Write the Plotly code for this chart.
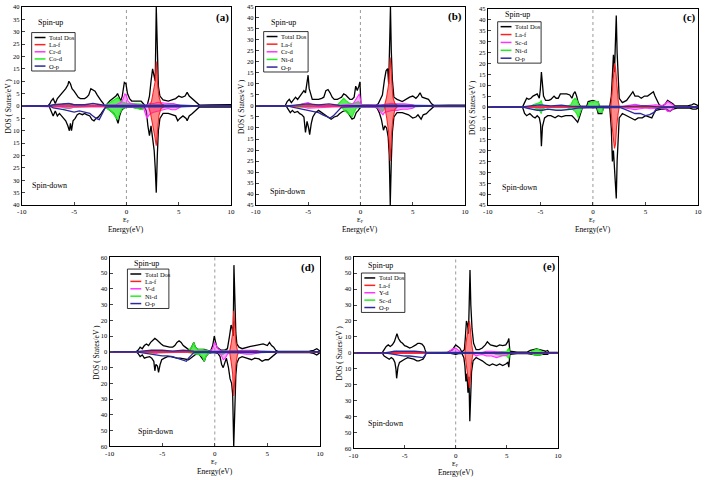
import plotly.graph_objects as go

W, H = 708, 480

# ---------------- data ----------------
energy_range = [-10, 10]
x_ticks = [-10, -5, 0, 5, 10]
x_tick_labels = ["-10", "-5", "0", "5", "10"]
EF = 0

panel_labels = ["(a)", "(b)", "(c)", "(d)", "(e)"]
names_a = ["Total Dos", "La-f", "Cr-d", "Co-d", "O-p"]
names_b = ["Total Dos", "La-f", "Cr-d", "Ni-d", "O-p"]
names_c = ["Total Dos", "La-f", "Sc-d", "Ni-d", "O-p"]
names_d = ["Total Dos", "La-f", "V-d", "Ni-d", "O-p"]
names_e = ["Total Dos", "La-f", "Y-d", "Sc-d", "O-p"]
y_limits = [40, 45, 45, 60, 60]
y_steps = [5, 5, 5, 10, 10]

# (energy, DOS) pairs; spin-down values are given as magnitudes
a_total_up = [(-10,0),(-7.5,0),(-7.3,1),(-7.2,2),(-7.0,3),(-6.8,1),(-6.6,3),(-6.4,4),(-6.2,5),(-6.0,6),(-5.8,7),(-5.6,8.5),(-5.5,10),(-5.35,9),(-5.2,7),(-5.0,6),(-4.8,4.5),(-4.6,3.5),(-4.4,3),(-4.0,3),(-3.8,3.5),(-3.6,4.5),(-3.4,7),(-3.2,6.5),(-3.0,6),(-2.8,4.5),(-2.6,3),(-2.4,2),(-2.2,1),(-2.1,0),(-1.9,0.5),(-1.6,2),(-1.3,3),(-1.0,4),(-0.85,5),(-0.7,3.5),(-0.55,2),(-0.4,4),(-0.2,9.5),(-0.05,9),(0.1,5),(0.3,3),(0.5,2),(1.0,2),(1.4,2),(1.6,1),(1.8,0),(2.0,0.5),(2.2,4),(2.35,10),(2.5,15),(2.65,12),(2.75,10),(2.85,40),(2.95,18),(3.05,8),(3.2,4),(3.5,2.5),(4.0,2),(4.4,2.5),(4.7,3),(5.0,4),(5.3,3.5),(5.6,4),(5.8,5.5),(6.0,4),(6.3,3),(6.6,2),(6.8,1),(7.0,0.3),(8,0.4),(9,0.5),(10,0.5)]
a_total_dn = [(-10,0),(-7.4,0),(-7.2,2),(-7.0,4),(-6.8,2),(-6.6,4),(-6.4,3),(-6.2,4),(-6.0,5),(-5.8,6),(-5.6,8),(-5.45,10),(-5.35,7),(-5.25,10),(-5.1,6),(-4.9,5),(-4.7,3.5),(-4.5,3),(-4.2,3.5),(-4.0,3),(-3.8,3.5),(-3.5,4),(-3.3,5.5),(-3.1,6),(-2.9,5),(-2.7,4.5),(-2.4,3),(-2.2,1.5),(-2.0,0.5),(-1.8,1),(-1.5,2),(-1.2,3),(-1.0,4.5),(-0.8,7),(-0.65,4),(-0.5,2),(-0.3,1),(0,0.5),(0.5,0.5),(1.0,0.8),(1.5,1.2),(1.7,0.3),(1.9,2),(2.05,8),(2.2,12),(2.35,8),(2.5,14),(2.65,18),(2.75,25),(2.85,35),(2.95,20),(3.05,10),(3.2,5),(3.5,3),(4.0,3),(4.4,3.5),(4.7,4),(4.9,6),(5.1,5),(5.4,4),(5.7,5),(5.8,6),(6.0,4),(6.3,3),(6.6,2),(6.8,1),(7.0,0.3),(8,0.4),(10,0.4)]
a_laf_up = [(-10,0),(2.2,0),(2.4,2),(2.6,6),(2.75,10),(2.85,18),(2.95,10),(3.1,4),(3.3,1),(3.6,0.3),(10,0)]
a_laf_dn = [(-10,0),(2.1,0),(2.3,3),(2.5,7),(2.7,12),(2.85,16),(2.95,10),(3.1,4),(3.3,1),(3.6,0.3),(10,0)]
a_d1_up = [(-10,0),(-6.5,0),(-6,0.5),(-5.5,1),(-5,0.5),(-4,0.3),(-2,0.3),(-1,0.5),(-0.5,1.5),(-0.3,3),(-0.15,5),(0,4),(0.15,2),(0.4,1),(1,0.5),(1.8,0.3),(2.2,1),(2.6,1),(3.0,1.5),(3.5,1.2),(4,1),(4.5,1),(5,0.5),(5.3,0),(10,0)]
a_d1_dn = [(-10,0),(-6,0.5),(-5.5,1),(-5,0.5),(-2,0.3),(0,0.5),(1.6,0.5),(1.8,3),(1.95,5),(2.1,4),(2.3,3),(2.6,2.5),(3.0,2),(3.5,1.5),(4,1),(4.3,1.5),(4.7,1.5),(5,0.8),(5.3,0),(10,0)]
a_d2_up = [(-10,0),(-6.3,0),(-6,1),(-5.5,1),(-5,0.5),(-2.2,0),(-1.9,0.5),(-1.5,1.5),(-1.1,2.5),(-0.8,3.5),(-0.6,2),(-0.3,1.5),(0,1),(0.5,1),(1,1),(1.4,0.8),(1.7,0),(10,0)]
a_d2_dn = [(-10,0),(-6.3,0),(-6,0.8),(-5.5,1),(-5,0.5),(-2.2,0),(-1.9,0.8),(-1.5,2),(-1.2,3.5),(-0.85,5.5),(-0.65,3),(-0.4,1),(0,0.5),(0.5,0.5),(1,1),(1.5,1.5),(1.7,0),(10,0)]
a_op_up = [(-10,0),(-7.5,0),(-7,0.5),(-6,0.8),(-5.5,1),(-5,0.5),(-4,0.5),(-3.2,1),(-2.5,0.5),(-2,0.2),(0,0.2),(2,0.3),(3,0.5),(5,0.3),(7,0),(10,0)]
a_op_dn = [(-10,0),(-7.3,0),(-7,0.8),(-6.5,1),(-6,1.5),(-5.5,2),(-5,2.5),(-4.5,2),(-4,2.5),(-3.5,3),(-3.2,4),(-2.9,5),(-2.6,5.5),(-2.4,4),(-2.2,2),(-2.0,0.5),(-1.5,0.3),(0,0.2),(2,0.3),(5,0.3),(7,0),(10,0)]

b_total_up = [(-10,0),(-7.2,0),(-7.0,2),(-6.8,3),(-6.6,1.5),(-6.4,3),(-6.2,4),(-6.0,3),(-5.8,4.5),(-5.6,5.5),(-5.4,7),(-5.25,6),(-5.1,10),(-5.0,14),(-4.9,8),(-4.75,5),(-4.6,3),(-4.3,3),(-4.0,3),(-3.7,3.5),(-3.5,4),(-3.3,7),(-3.1,7.5),(-2.9,6),(-2.7,4),(-2.5,3),(-2.2,3),(-2.0,3.5),(-1.8,4),(-1.6,5.5),(-1.4,5),(-1.2,4),(-1.0,3),(-0.8,3),(-0.6,4),(-0.45,9),(-0.3,7),(-0.15,9),(-0.05,11),(0.05,0.5),(1.5,0.3),(1.7,1),(1.9,3),(2.1,5),(2.3,12),(2.45,16),(2.6,17),(2.7,10),(2.8,30),(2.87,45),(2.95,25),(3.05,12),(3.2,4),(3.5,3),(4.0,2),(4.3,3),(4.7,4),(5.0,4.5),(5.3,3.5),(5.5,4.5),(5.7,6),(5.9,4),(6.2,3.5),(6.5,3),(6.8,1),(7.0,0.3),(8.5,0.4),(10,0.4)]
b_total_dn = [(-10,0),(-7.1,0),(-6.9,1.5),(-6.7,3),(-6.5,2),(-6.3,3),(-6.0,2.5),(-5.8,3.5),(-5.6,4),(-5.4,5),(-5.25,12),(-5.1,7),(-4.95,10),(-4.85,13),(-4.7,8),(-4.55,5),(-4.3,3),(-4.0,2),(-3.7,3),(-3.4,4),(-3.1,5),(-2.8,6),(-2.5,5),(-2.2,4.5),(-2.0,3.5),(-1.7,2.5),(-1.4,2),(-1.2,3),(-1.0,4.5),(-0.8,6),(-0.6,5.5),(-0.4,3),(-0.2,2),(0.0,0.5),(1.3,0.3),(1.6,1),(1.8,3),(2.0,6),(2.2,11),(2.35,9),(2.5,10),(2.65,14),(2.75,22),(2.85,45),(2.95,25),(3.05,12),(3.2,5),(3.5,3),(4.0,3),(4.3,3.5),(4.6,4),(5.0,5.5),(5.3,5),(5.5,4),(5.8,6),(6.0,4),(6.3,3.5),(6.6,2),(6.8,1),(7.0,0.3),(10,0.3)]
b_laf_up = [(-10,0),(2.3,0),(2.5,4),(2.7,10),(2.85,22),(2.95,12),(3.1,4),(3.3,1),(3.6,0),(10,0)]
b_laf_dn = [(-10,0),(2.3,0),(2.5,5),(2.7,12),(2.85,25),(2.95,14),(3.1,6),(3.3,1.5),(3.6,0),(10,0)]
b_d1_up = [(-10,0),(-6,0),(-5.5,1),(-5,1.5),(-4.5,0.5),(-2,0.3),(-0.7,1),(-0.45,3),(-0.25,4),(-0.1,5.5),(0.0,3),(0.1,0.3),(2,0.5),(2.5,1),(3,1.2),(3.5,1),(4.2,1),(5,0.5),(5.3,0),(10,0)]
b_d1_dn = [(-10,0),(-6,0),(-5.5,0.5),(-5,1),(-2,0.3),(0,0.3),(1.6,0.5),(1.8,2),(2.0,3.5),(2.15,4),(2.3,3),(2.6,2.5),(3.0,2),(3.5,2),(4,1.5),(4.5,1.5),(5,1),(5.3,0),(10,0)]
b_d2_up = [(-10,0),(-6.3,0),(-6,0.5),(-5.5,1),(-5,0.8),(-2.6,0),(-2.2,0.5),(-1.9,2),(-1.6,3.5),(-1.4,2.5),(-1.1,1.5),(-0.8,1),(-0.5,1.5),(-0.2,2),(0,1),(0.05,0),(10,0)]
b_d2_dn = [(-10,0),(-6.3,0),(-6,0.5),(-5,0.5),(-2.2,0),(-1.9,0.5),(-1.6,1.5),(-1.3,3),(-1.0,4),(-0.8,5),(-0.6,3),(-0.4,1),(0,0.5),(1.5,0.3),(1.7,1),(1.9,2),(2.1,2.5),(2.3,1),(2.5,0),(10,0)]
b_op_up = [(-10,0),(-7,0),(-6,0.5),(-5,1),(-4,0.5),(-3,1),(-2,0.3),(0,0.2),(3,0.4),(5,0.3),(7,0),(10,0)]
b_op_dn = [(-10,0),(-7,0),(-6.5,0.5),(-6,1),(-5.5,1.5),(-5,2),(-4.5,2.5),(-4,3),(-3.6,4),(-3.2,5),(-2.9,5.5),(-2.6,4.5),(-2.3,3),(-2.0,1.5),(-1.8,0.5),(0,0.2),(3,0.3),(5,0.3),(7,0),(10,0)]

c_total_up = [(-10,0),(-6.7,0),(-6.5,2),(-6.3,4),(-6.1,3.5),(-5.9,4),(-5.7,5),(-5.5,5.5),(-5.3,6),(-5.1,4),(-5.0,8),(-4.9,16),(-4.8,9),(-4.7,5),(-4.5,3),(-4.2,3),(-4.0,3.5),(-3.7,5),(-3.5,4),(-3.3,4),(-3.1,6),(-2.8,6),(-2.5,6),(-2.2,5.5),(-2.0,4),(-1.85,6),(-1.7,7),(-1.55,5),(-1.4,2),(-1.2,0.3),(-0.6,0.3),(-0.45,2.5),(0.0,3),(0.3,2.5),(0.5,2.5),(0.6,0.3),(1.6,0.3),(1.75,5),(1.85,15),(1.95,24),(2.05,16),(2.15,30),(2.22,42),(2.3,25),(2.4,10),(2.5,4),(2.8,2),(3.2,3),(3.5,5),(3.8,7),(4.0,5),(4.3,5),(4.6,4),(4.9,5),(5.2,5),(5.5,6),(5.75,7),(5.9,5),(6.1,3),(6.3,1),(6.6,0.3),(6.9,1.5),(7.1,3),(7.3,2.5),(7.6,1.5),(7.8,0.5),(9.0,0.5),(9.4,1),(9.6,1.5),(9.85,1),(10,0.5)]
c_total_dn = [(-10,0),(-6.7,0),(-6.5,3),(-6.3,4),(-6.0,3),(-5.7,4.5),(-5.5,5),(-5.3,4),(-5.1,5),(-4.98,8),(-4.9,18),(-4.8,9),(-4.6,5),(-4.3,4),(-4.0,4),(-3.6,5),(-3.3,4),(-3.0,4.5),(-2.6,4),(-2.3,4),(-2.0,4),(-1.8,5),(-1.6,6),(-1.45,7),(-1.3,5),(-1.15,2),(-1.0,0.3),(0.35,0.3),(0.5,3),(0.7,3),(0.85,3),(1.0,0.3),(1.6,0.3),(1.75,10),(1.85,25),(1.95,20),(2.05,28),(2.15,35),(2.22,42),(2.3,25),(2.4,10),(2.5,5),(2.8,3),(3.2,4),(3.6,5),(4.0,6),(4.3,5),(4.7,5),(5.0,4),(5.3,4.5),(5.6,5),(5.8,3),(6.0,1.5),(6.5,1),(7.0,1),(7.3,2),(7.6,1),(8.0,0.5),(9.2,0.5),(9.5,1),(9.8,1),(10,0.5)]
c_laf_up = [(-10,0),(1.7,0),(1.85,8),(1.95,14),(2.05,20),(2.15,18),(2.25,10),(2.4,3),(2.5,0),(10,0)]
c_laf_dn = [(-10,0),(1.7,0),(1.85,10),(1.95,16),(2.05,19),(2.15,17),(2.25,9),(2.4,3),(2.5,0),(10,0)]
c_d1_up = [(-10,0),(-5.5,0),(-5,0.5),(-4.5,0),(2.5,0),(3,0.5),(3.5,1),(4,1.2),(4.5,0.8),(5,0.5),(5.5,0.8),(6,1),(6.5,0.5),(6.9,1.5),(7.1,2.5),(7.3,2),(7.6,1),(7.8,0),(10,0)]
c_d1_dn = [(-10,0),(-5.5,0),(-5,0.5),(-4.5,0),(2.5,0),(3,0.5),(3.5,1),(4,1.2),(4.5,0.8),(5,0.5),(5.5,0.8),(6,0.7),(6.5,0.5),(6.9,1),(7.1,2),(7.3,2),(7.6,1),(7.8,0),(10,0)]
c_d2_up = [(-10,0),(-6,0),(-5.7,1),(-5.3,1.5),(-5.05,2),(-4.92,3),(-4.8,1),(-4.5,0.3),(-2.5,0.3),(-2.1,1),(-1.9,3),(-1.7,4),(-1.5,3),(-1.35,1),(-1.2,0),(-0.5,0),(-0.4,2),(0.0,2.5),(0.5,2.5),(0.6,0),(10,0)]
c_d2_dn = [(-10,0),(-6,0),(-5.5,0.5),(-5.1,1.5),(-4.92,3),(-4.8,1),(-4.5,0.3),(-2.5,0.3),(-2.0,1),(-1.7,2),(-1.5,3.5),(-1.4,5),(-1.25,3),(-1.1,1),(-1.0,0),(0.4,0),(0.5,2),(0.7,2.5),(0.9,2.5),(1.0,0),(10,0)]
c_op_up = [(-10,0),(-6.7,0),(-6,0.5),(-5,1),(-4,0.5),(-3,0.8),(-2,0.3),(0,0.2),(3,0.3),(5,0.5),(6,0.2),(10,0)]
c_op_dn = [(-10,0),(-6.7,0),(-6.3,0.5),(-5.8,1),(-5.3,1.5),(-4.8,1.5),(-4.3,1),(-3.5,1.5),(-3,1.5),(-2,1),(-1.5,0.5),(0,0.2),(2.6,0.3),(3.0,1),(3.5,2),(4.0,3),(4.5,3),(5.0,4),(5.4,3.5),(5.8,2.5),(6.0,1),(6.5,0.3),(10,0)]

d_total_up = [(-10,0),(-7.5,0),(-7.3,1),(-7.1,3),(-6.9,2),(-6.7,4),(-6.5,5),(-6.3,4),(-6.1,6),(-5.9,7),(-5.7,8.5),(-5.5,7.5),(-5.3,6),(-5.1,5),(-4.9,4),(-4.6,3.5),(-4.3,3),(-4.0,3),(-3.8,4),(-3.6,6),(-3.4,7),(-3.2,6),(-3.0,4),(-2.8,3),(-2.6,2),(-2.4,1),(-2.2,3),(-2.0,6),(-1.85,3),(-1.6,1.5),(-1.3,1.5),(-1.0,1.5),(-0.7,1),(-0.4,0.5),(-0.2,4),(-0.05,10),(0.05,7),(0.2,3),(0.4,2),(0.6,1),(0.9,1),(1.2,2),(1.4,10),(1.55,17),(1.65,15),(1.75,10),(1.82,55),(1.9,30),(2.0,12),(2.1,5),(2.3,3),(2.6,2),(3.0,3),(3.4,3.5),(3.8,4),(4.2,4.5),(4.6,5),(5.0,4),(5.2,6),(5.4,4),(5.6,3),(5.8,1),(6.0,0.3),(9.0,0.5),(9.4,1),(9.7,2),(9.9,1),(10,0.5)]
d_total_dn = [(-10,0),(-7.5,0),(-7.3,1),(-7.1,3),(-6.9,2),(-6.7,4),(-6.5,3.5),(-6.2,3),(-6.0,4),(-5.8,6),(-5.7,12),(-5.6,8),(-5.45,9),(-5.35,13),(-5.2,8),(-5.05,5),(-4.8,4),(-4.5,3),(-4.2,3),(-3.9,3.5),(-3.6,4),(-3.3,4),(-3.0,4.5),(-2.7,5),(-2.5,5),(-2.3,4),(-2.1,3),(-1.8,1.5),(-1.5,1.5),(-1.3,3),(-1.1,5),(-1.0,6),(-0.85,3),(-0.6,1),(-0.3,0.5),(0,0.5),(0.3,1),(0.5,3),(0.65,8),(0.8,10),(0.95,7),(1.1,4),(1.3,10),(1.45,17),(1.6,20),(1.7,27),(1.8,60),(1.9,35),(2.0,15),(2.1,7),(2.3,4),(2.6,3),(3.0,4),(3.5,5),(3.8,4),(4.2,4.5),(4.5,6),(4.8,5),(5.1,5),(5.4,3.5),(5.7,2),(5.9,0.5),(9.0,0.5),(9.4,1),(9.7,2),(9.9,1),(10,0.5)]
d_laf_up = [(-10,0),(1.4,0),(1.55,5),(1.7,12),(1.8,26),(1.9,15),(2.0,6),(2.15,1),(2.3,0),(10,0)]
d_laf_dn = [(-10,0),(1.4,0),(1.55,6),(1.7,14),(1.8,28),(1.9,18),(2.0,8),(2.15,2),(2.3,0),(10,0)]
d_d1_up = [(-10,0),(-6,0),(-5.7,1),(-5.4,0.5),(-0.5,0),(-0.2,2),(0.0,6),(0.15,4),(0.3,2),(0.6,0.5),(2.2,0.5),(2.6,1),(3.0,1.2),(3.5,1),(4.0,0.8),(4.3,0),(10,0)]
d_d1_dn = [(-10,0),(-6,0),(-5.7,1.5),(-5.4,0.5),(-0.3,0),(0.3,0.5),(0.6,2),(0.8,5),(1.0,4),(1.2,1.5),(1.4,0.5),(2.2,0.5),(2.5,1),(3.0,1.5),(3.5,1.5),(4.0,1),(4.5,0.5),(4.7,0),(10,0)]
d_d2_up = [(-10,0),(-6.8,0),(-6.5,0.5),(-6,1),(-5.5,0.5),(-2.8,0),(-2.5,1),(-2.2,3),(-2.0,6),(-1.85,3),(-1.6,1.5),(-1.2,1.5),(-0.8,1),(-0.5,0.5),(-0.3,0),(0.3,0),(0.6,0.5),(1.0,1),(1.3,0),(10,0)]
d_d2_dn = [(-10,0),(-6.8,0),(-6.5,0.5),(-6,0.8),(-2.8,0),(-2.4,0.5),(-2.0,1),(-1.7,1.5),(-1.4,2),(-1.2,3),(-1.0,6),(-0.85,3),(-0.6,1),(-0.3,0.3),(0.3,0.3),(0.5,1.5),(0.7,2),(0.9,1),(1.1,0),(10,0)]
d_op_up = [(-10,0),(-7.5,0),(-7,0.5),(-6,1),(-5,1),(-4,0.5),(-3,1),(-2,0.5),(0,0.3),(2,0.5),(4,0.5),(6,0.2),(10,0)]
d_op_dn = [(-10,0),(-7.4,0),(-7,0.5),(-6.5,1),(-6,1.5),(-5.5,2),(-5,2.5),(-4.5,2.5),(-4,3),(-3.6,4),(-3.2,5),(-2.9,6),(-2.7,6),(-2.5,4),(-2.2,2),(-2.0,0.5),(0,0.3),(2,0.5),(4,0.5),(6,0.2),(10,0)]

e_total_up = [(-10,0),(-7.2,0),(-7.0,2),(-6.8,4),(-6.6,5),(-6.4,4),(-6.2,5),(-6.0,7),(-5.85,10),(-5.75,12),(-5.6,9),(-5.4,7),(-5.2,6),(-5.0,4.5),(-4.8,4),(-4.5,3),(-4.3,3.5),(-4.1,4),(-3.9,5),(-3.7,6),(-3.5,6),(-3.3,5.5),(-3.1,4),(-3.0,2),(-2.9,0.3),(-0.8,0.3),(-0.6,1),(-0.3,2),(-0.1,4),(0.0,5),(0.2,4),(0.4,3),(0.6,0.5),(0.85,2),(0.95,10),(1.05,20),(1.15,18),(1.25,12),(1.32,30),(1.4,52),(1.48,30),(1.6,15),(1.75,6),(2.0,2),(2.3,2),(2.6,3),(2.9,5),(3.1,7),(3.4,5),(3.7,4.5),(4.0,4),(4.3,5),(4.6,4.5),(4.9,5),(5.1,7),(5.2,9),(5.3,1),(6.0,0.5),(7.0,0.5),(7.3,1.5),(7.6,2),(7.9,2.5),(8.2,2),(8.5,1.5),(8.8,1),(9.0,1.5),(9.1,0.3),(10,0.3)]
e_total_dn = [(-10,0),(-7.2,0),(-7.0,2),(-6.8,3),(-6.5,4),(-6.3,3),(-6.1,4),(-5.95,6),(-5.85,10),(-5.78,16),(-5.65,9),(-5.5,6),(-5.3,5),(-5.0,4),(-4.7,3),(-4.4,3.5),(-4.1,4),(-3.8,5),(-3.6,5),(-3.4,4.5),(-3.2,4),(-3.0,2),(-2.9,0.3),(-0.5,0.3),(-0.2,1),(0.0,1),(0.3,0.5),(0.6,0.3),(0.8,3),(0.9,8),(1.0,18),(1.1,13),(1.2,25),(1.3,15),(1.38,43),(1.45,25),(1.55,12),(1.7,5),(2.0,3),(2.3,4),(2.6,5),(3.0,7),(3.3,8),(3.6,7),(4.0,8),(4.3,7),(4.6,8),(4.9,7),(5.1,6),(5.2,9),(5.3,1),(6.0,0.5),(7.0,0.5),(7.5,1),(8.0,1.5),(8.5,1),(9.0,1),(9.1,0.3),(10,0.3)]
e_laf_up = [(-10,0),(0.9,0),(1.05,8),(1.15,12),(1.25,16),(1.35,20),(1.45,14),(1.55,6),(1.7,0),(10,0)]
e_laf_dn = [(-10,0),(0.9,0),(1.05,8),(1.15,14),(1.25,18),(1.35,22),(1.45,14),(1.55,6),(1.7,0),(10,0)]
e_d1_up = [(-10,0),(-0.8,0),(-0.6,1),(-0.3,2.5),(0.0,3),(0.3,1.5),(0.6,0),(2.5,0),(3.0,1),(3.5,1),(4,0.8),(5,0.5),(5.3,0),(10,0)]
e_d1_dn = [(-10,0),(-6,0),(-5.8,1),(-5.6,0),(1.6,0),(1.8,1),(2.0,2),(2.2,1.5),(2.6,1),(3.0,2),(3.5,2),(4.0,3),(4.5,2),(5,1.5),(5.3,0),(10,0)]
e_d2_up = [(-10,0),(-6,0),(-5.8,1),(-5.6,0),(3.5,0),(4,0.5),(4.5,0.8),(5,1),(5.2,3),(5.3,0),(7.2,0),(7.5,1),(7.8,2),(8.1,2),(8.4,1),(8.7,0),(10,0)]
e_d2_dn = [(-10,0),(3.5,0),(4,1),(4.5,1.5),(5,2),(5.2,3.5),(5.3,0),(7.2,0),(7.5,1),(7.8,1.5),(8.1,1.5),(8.4,1),(8.7,0),(10,0)]
e_op_up = [(-10,0),(-7,0),(-6.5,0.5),(-6,1),(-5,1),(-4,1),(-3,0.5),(-2.9,0),(0,0.3),(3,0.3),(5,0.3),(10,0)]
e_op_dn = [(-10,0),(-7,0),(-6.5,0.5),(-6,1),(-5.5,1.5),(-5,2),(-4.5,2),(-4,2.5),(-3.5,3),(-3.2,3),(-3.0,1.5),(-2.9,0.3),(0,0.3),(3,0.3),(5,0.3),(10,0)]

panel_series = [
    [(a_total_up, a_total_dn), (a_laf_up, a_laf_dn), (a_d1_up, a_d1_dn), (a_d2_up, a_d2_dn), (a_op_up, a_op_dn)],
    [(b_total_up, b_total_dn), (b_laf_up, b_laf_dn), (b_d1_up, b_d1_dn), (b_d2_up, b_d2_dn), (b_op_up, b_op_dn)],
    [(c_total_up, c_total_dn), (c_laf_up, c_laf_dn), (c_d1_up, c_d1_dn), (c_d2_up, c_d2_dn), (c_op_up, c_op_dn)],
    [(d_total_up, d_total_dn), (d_laf_up, d_laf_dn), (d_d1_up, d_d1_dn), (d_d2_up, d_d2_dn), (d_op_up, d_op_dn)],
    [(e_total_up, e_total_dn), (e_laf_up, e_laf_dn), (e_d1_up, e_d1_dn), (e_d2_up, e_d2_dn), (e_op_up, e_op_dn)],
]
panel_names = [names_a, names_b, names_c, names_d, names_e]

# ---------------- styles / layout ----------------
FONT = "Liberation Serif"
line_colors = ["#000000", "#ff2020", "#ff33ff", "#22ee22", "#2a2a9a"]
fill_colors = [None, "rgba(255,40,40,0.55)", "rgba(255,60,255,0.45)", "rgba(40,230,40,0.75)", None]
line_widths = [1.3, 1.1, 1.1, 1.1, 1.3]
draw_order = [0, 3, 2, 1, 4]

# plot boxes in pixels: x0, y0(top), x1, y1(bottom)
boxes = [(17, 3, 229, 204), (254, 3, 466, 204), (489, 5, 702, 204),
         (106, 257, 319, 449), (353, 257, 560, 451)]
legend_boxes = [(27, 29, 71, 68), (262, 28, 307, 69), (499, 18, 543, 60),
                (124, 269, 166, 309), (361, 273, 405, 313)]
spin_up_pos = [(46, 19), (282, 19), (519, 11), (143, 263), (380, 265)]
spin_dn_pos = [(45, 184), (286, 190), (521, 186), (152, 434), (385, 426)]
label_pos = [(220, 14), (456, 13), (693, 14), (307, 267), (552, 266)]
ytitle_x = [4.5, 240, 474, 93, 339]
ef_y = [219.5, 219.5, 219.5, 465, 467]
en_y = [229, 229, 229, 474, 475]


def px(x):
    return x / W


def py(y):
    return 1 - y / H


def note(text, x, y, size, xref="paper", **kw):
    d = dict(text=text, xref=xref, yref="paper", x=x, y=y, showarrow=False,
             xanchor="center", yanchor="middle", font=dict(size=size, family=FONT))
    d.update(kw)
    return d


fig = go.Figure()
layout = dict(width=W, height=H, margin=dict(l=0, r=0, t=0, b=0),
              paper_bgcolor="white", plot_bgcolor="white", showlegend=False,
              font=dict(family=FONT, color="black"))
annotations = []
shapes = []

for i in range(5):
    k = "" if i == 0 else str(i + 1)
    x0, y0, x1, y1 = boxes[i]
    lim, step = y_limits[i], y_steps[i]
    yvals = list(range(-lim, lim + 1, step))
    layout["xaxis" + k] = dict(domain=[px(x0), px(x1)], range=energy_range, anchor="y" + k,
                               tickvals=x_ticks, ticktext=x_tick_labels, ticks="inside", ticklen=3,
                               showline=True, mirror=True, linecolor="black", linewidth=1,
                               showgrid=False, zeroline=False, tickfont=dict(size=7, family=FONT))
    layout["yaxis" + k] = dict(domain=[py(y1), py(y0)], range=[-lim, lim], anchor="x" + k,
                               tickvals=yvals, ticktext=[str(abs(v)) for v in yvals],
                               ticks="inside", ticklen=3, showline=True, mirror=True,
                               linecolor="black", linewidth=1, showgrid=False, zeroline=False,
                               tickfont=dict(size=6.5, family=FONT))
    for s in draw_order:
        up, dn = panel_series[i][s]
        for pts, sign in ((up, 1), (dn, -1)):
            tr = dict(x=[p[0] for p in pts], y=[sign * p[1] for p in pts], mode="lines",
                      line=dict(color=line_colors[s], width=line_widths[s]),
                      xaxis="x" + k, yaxis="y" + k, hoverinfo="skip")
            if fill_colors[s]:
                tr["fill"] = "tozeroy"
                tr["fillcolor"] = fill_colors[s]
            fig.add_trace(go.Scatter(**tr))
    # Fermi level
    shapes.append(dict(type="line", xref="x" + k, yref="y" + k + " domain", x0=EF, x1=EF, y0=0, y1=1,
                       line=dict(color="#999999", width=1, dash="dot"), layer="below"))
    # legend box
    lx0, ly0, lx1, ly1 = legend_boxes[i]
    shapes.append(dict(type="rect", xref="paper", yref="paper", x0=px(lx0), x1=px(lx1),
                       y0=py(ly1), y1=py(ly0), line=dict(color="black", width=0.8),
                       fillcolor="white", layer="above"))
    gap = (ly1 - ly0 - 10) / 4
    for j, name in enumerate(panel_names[i]):
        yy = ly0 + 5 + j * gap
        shapes.append(dict(type="line", xref="paper", yref="paper", x0=px(lx0 + 3), x1=px(lx0 + 14),
                           y0=py(yy), y1=py(yy), line=dict(color=line_colors[j], width=1.5)))
        annotations.append(note(name, px(lx0 + 16), py(yy), 6.5, xanchor="left"))
    annotations.append(note("Spin-up", px(spin_up_pos[i][0]), py(spin_up_pos[i][1]), 8))
    annotations.append(note("Spin-down", px(spin_dn_pos[i][0]), py(spin_dn_pos[i][1]), 8))
    annotations.append(note("<b>" + panel_labels[i] + "</b>", px(label_pos[i][0]),
                            py(label_pos[i][1]), 11))
    annotations.append(note("DOS ( States/eV )", px(ytitle_x[i]), py((y0 + y1) / 2), 7.5,
                            textangle=-90))
    annotations.append(note("E<sub>F</sub>", EF, py(ef_y[i]), 6, xref="x" + k))
    annotations.append(note("Energy(eV)", EF, py(en_y[i]), 7.5, xref="x" + k))

layout["annotations"] = annotations
layout["shapes"] = shapes
fig.update_layout(**layout)
fig.write_html("out.html")
